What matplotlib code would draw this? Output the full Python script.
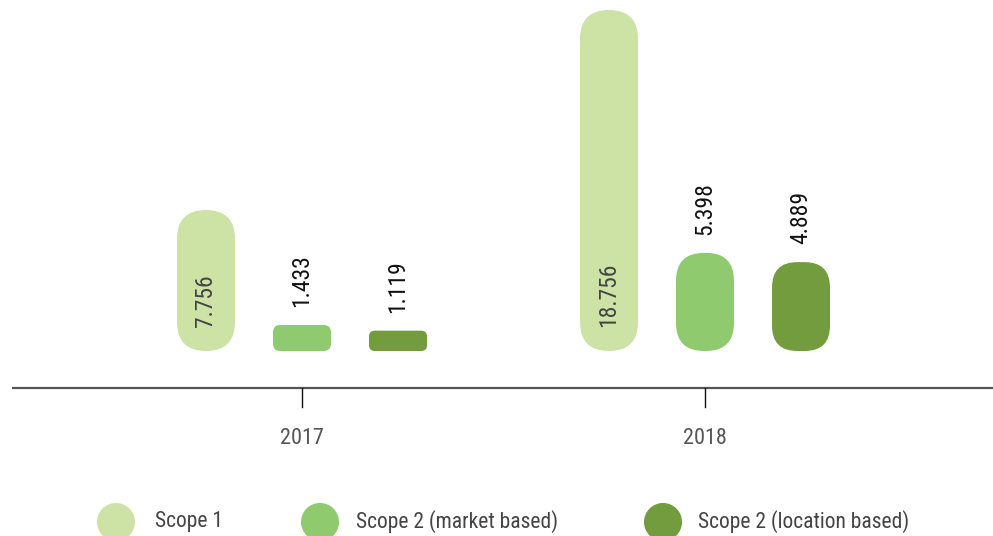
import matplotlib
matplotlib.use("Agg")
import matplotlib.pyplot as plt
from matplotlib import font_manager
from matplotlib.patches import FancyBboxPatch

years = ["2017", "2018"]
series = ["Scope 1", "Scope 2 (market based)", "Scope 2 (location based)"]
scope1 = [7.756, 18.756]
scope2_market = [1.433, 5.398]
scope2_location = [1.119, 4.889]
labels_scope1 = ["7.756", "18.756"]
labels_market = ["1.433", "5.398"]
labels_location = ["1.119", "4.889"]

colors = ["#cde3a5", "#8fca6e", "#729c3e"]

# pick a narrow font if available
names = {f.name for f in font_manager.fontManager.ttflist}
family = "DejaVu Sans"
for cand in ["Liberation Sans Narrow", "DejaVu Sans Condensed", "Roboto Condensed"]:
    if cand in names:
        family = cand
        break
stretch = "condensed" if family == "DejaVu Sans" else "normal"
plt.rcParams["font.family"] = family

W, H = 993, 536
fig = plt.figure(figsize=(W / 100, H / 100), dpi=100)
ax = fig.add_axes([0, 0, 1, 1])

# layout in pixel terms -> data limits
px_per_x = 403.0        # distance between group centers
px_per_y = 18.18        # pixels per unit value
x0_px, base_px = 302.0, 351.0
ax.set_xlim(-x0_px / px_per_x, (W - x0_px) / px_per_x)
ax.set_ylim(-(H - base_px) / px_per_y, base_px / px_per_y)
ax.axis("off")

aspect = px_per_x / px_per_y
offset = 96 / px_per_x
width = 58 / px_per_x

all_vals = [scope1, scope2_market, scope2_location]
all_labels = [labels_scope1, labels_market, labels_location]

for s, (vals, labs) in enumerate(zip(all_vals, all_labels)):
    for g, v in enumerate(vals):
        xc = g + (s - 1) * offset
        h_px = v * px_per_y
        r_px = min(29, h_px / 3.5)
        patch = FancyBboxPatch(
            (xc - width / 2, 0), width, v,
            boxstyle=f"round,pad=0,rounding_size={r_px / px_per_x}",
            mutation_aspect=aspect,
            facecolor=colors[s], edgecolor="none",
        )
        ax.add_patch(patch)
        if s == 0:
            ax.text(xc, 24 / px_per_y, labs[g], rotation=90, ha="center",
                    va="bottom", fontsize=17, color="#444444", fontstretch=stretch)
        else:
            ax.text(xc, v + 18 / px_per_y, labs[g], rotation=90, ha="center",
                    va="bottom", fontsize=17, color="#111111", fontstretch=stretch)

# axis line, ticks and year labels
axis_y = -37 / px_per_y
ax.plot([(12 - x0_px) / px_per_x, (W - x0_px) / px_per_x], [axis_y, axis_y],
        color="#555555", lw=1.6, solid_capstyle="butt")
for g, yr in enumerate(years):
    ax.plot([g, g], [axis_y, axis_y - 19 / px_per_y], color="#111111", lw=1.0)
    ax.text(g, -88 / px_per_y, yr, ha="center", va="center", fontsize=16,
            color="#555555", fontstretch=stretch)

# legend
leg_y = 1 - 522 / H
leg_circle_x = [116, 320, 663]
leg_text_x = [155, 356, 698]
for s, name in enumerate(series):
    ax.scatter([leg_circle_x[s] / W], [leg_y], s=38 ** 2 * 0.52, color=colors[s],
               transform=ax.transAxes, clip_on=False, edgecolors="none")
    ax.text(leg_text_x[s] / W, leg_y, name, transform=ax.transAxes,
            ha="left", va="center", fontsize=15.5, color="#444444",
            fontstretch=stretch)

fig.savefig("out.png", dpi=100)
